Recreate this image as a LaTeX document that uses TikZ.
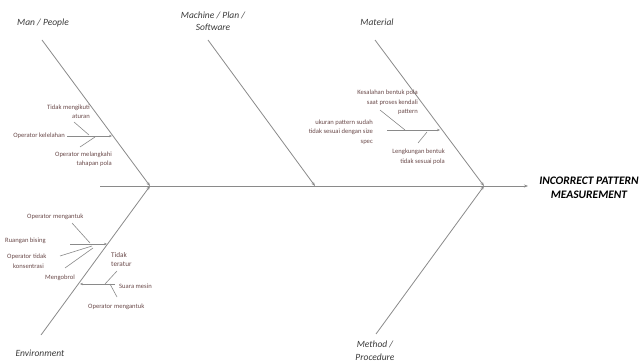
\documentclass[tikz,border=0pt]{standalone}
\usepackage{fontspec}
\setmainfont{Carlito}
\usetikzlibrary{arrows.meta}
\definecolor{linegray}{HTML}{8A8A8A}
\definecolor{txt}{HTML}{3A3A3A}
\definecolor{subtxt}{HTML}{6A4A4A}
\begin{document}
\begin{tikzpicture}[x=1pt,y=-1pt,
  bone/.style={draw=linegray, line width=0.8pt, -{Stealth[length=4pt,width=3pt]}},
  twig/.style={draw=linegray, line width=0.6pt},
  twigarrow/.style={draw=linegray, line width=0.6pt, -{Stealth[length=3pt,width=2.4pt]}},
  cat/.style={font=\itshape\fontsize{9.5}{12.5}\selectfont, text=txt, align=center, inner sep=0pt},
  sub/.style={font=\fontsize{6.6}{9.5}\selectfont, text=subtxt, inner sep=0pt},
  title/.style={font=\bfseries\itshape\fontsize{11.5}{14}\selectfont, text=black, align=center, inner sep=0pt},
]
\useasboundingbox (0,0) rectangle (644,363);

% spine
\coordinate (tail) at (100,186);
\coordinate (jL) at (150,186);
\coordinate (jM) at (315,186);
\coordinate (jR) at (484,186);
\coordinate (head) at (528,186);
\draw[draw=linegray, line width=0.8pt] (tail) -- (jR);
\draw[bone] (jR) -- (head);
\node[title] (effect) at (589,188) {INCORRECT PATTERN\\MEASUREMENT};

% main bones
\coordinate (manS) at (42,40);
\coordinate (machS) at (208,40);
\coordinate (matS) at (375,40);
\coordinate (methS) at (376,334);
\coordinate (envS) at (41,335);
\draw[bone] (manS) -- (jL);
\draw[bone] (envS) -- (jL);
\draw[bone] (machS) -- (jM);
\draw[bone] (matS) -- (jR);
\draw[bone] (methS) -- (jR);

% category labels
\node[cat] (man) at (43,23) {Man / People};
\node[cat] (mach) at (213,21) {Machine / Plan /\\Software};
\node[cat] (mat) at (377,22) {Material};
\node[cat] (meth) at (375,350.5) {Method /\\Procedure};
\node[cat] (env) at (40,353) {Environment};

% Man / People causes
\coordinate (m1a) at (67,136);
\coordinate (m1b) at (112,136);
\draw[twigarrow] (m1a) -- (m1b);
\coordinate (m2a) at (74,122);
\coordinate (m2b) at (89,135);
\draw[twig] (m2a) -- (m2b);
\coordinate (m3a) at (80,147);
\coordinate (m3b) at (95,137);
\draw[twig] (m3a) -- (m3b);
\node[sub, anchor=east, align=right] (mt1) at (90,111.5) {Tidak mengikuti\\aturan};
\node[sub, anchor=east] (mt2) at (65,136) {Operator kelelahan};
\node[sub, anchor=east, align=right] (mt3) at (112,159) {Operator melangkahi\\tahapan pola};

% Environment causes
\coordinate (e1a) at (70,244);
\coordinate (e1b) at (107,244);
\draw[twigarrow] (e1a) -- (e1b);
\coordinate (e2a) at (72,223);
\coordinate (e2b) at (90,243);
\draw[twig] (e2a) -- (e2b);
\coordinate (e3a) at (60,256);
\coordinate (e3b) at (92,246);
\draw[twig] (e3a) -- (e3b);
\coordinate (e4a) at (65,268);
\coordinate (e4b) at (93,248);
\draw[twig] (e4a) -- (e4b);
\node[sub, anchor=west] (et1) at (27,217) {Operator mengantuk};
\node[sub, anchor=west] (et2) at (5,241) {Ruangan bising};
\node[sub, anchor=west, align=left] (et3) at (7,261) {Operator tidak\\\hspace*{6pt}konsentrasi};
\node[sub, anchor=west] (et4) at (45,277.5) {Mengobrol};
\node[sub, anchor=west, align=left, font=\fontsize{7.2}{9}\selectfont] (et5) at (111,259.5) {Tidak\\teratur};

\coordinate (e5a) at (115,284);
\coordinate (e5b) at (80,284);
\draw[twigarrow] (e5a) -- (e5b);
\coordinate (e6a) at (117,271);
\coordinate (e6b) at (105,284);
\draw[twig] (e6a) -- (e6b);
\coordinate (e7a) at (117,297);
\coordinate (e7b) at (110,284);
\draw[twig] (e7a) -- (e7b);
\node[sub, anchor=west] (et6) at (119,286.5) {Suara mesin};
\node[sub, anchor=west] (et7) at (88,307) {Operator mengantuk};

% Material causes
\coordinate (t1a) at (387,130);
\coordinate (t1b) at (440,130);
\draw[twigarrow] (t1a) -- (t1b);
\coordinate (t2a) at (380,110);
\coordinate (t2b) at (405,130);
\draw[twig] (t2a) -- (t2b);
\coordinate (t3a) at (418,143);
\coordinate (t3b) at (427,132);
\draw[twig] (t3a) -- (t3b);
\node[sub, anchor=east, align=right] (tt1) at (418,102.5) {Kesalahan bentuk pola\\saat proses kendali\\pattern};
\node[sub, anchor=east, align=right] (tt2) at (373,132) {ukuran pattern sudah\\tidak sesuai dengan size\\spec};
\node[sub, anchor=east, align=right] (tt3) at (445,156.5) {Lengkungan bentuk\\tidak sesuai pola};
\end{tikzpicture}
\end{document}
